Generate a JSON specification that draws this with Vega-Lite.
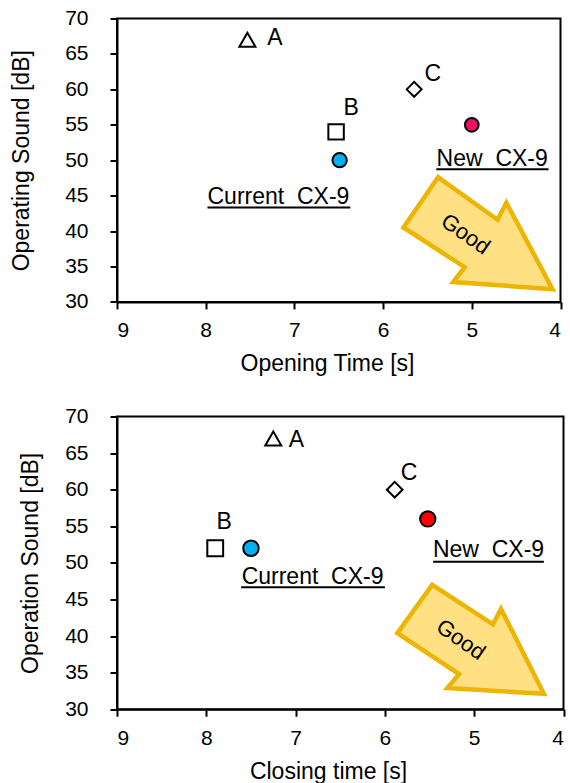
{
  "$schema": "https://vega.github.io/schema/vega-lite/v6.json",
  "padding": {"left": 9, "top": 6.5, "right": 2, "bottom": 0},
  "bounds": "flush",
  "spacing": 114,
  "config": {
    "font": "Liberation Sans",
    "view": {"stroke": "black", "strokeWidth": 2},
    "axis": {
      "domainColor": "black", "domainWidth": 2,
      "tickColor": "black", "tickWidth": 2, "tickSize": 7,
      "labelFont": "Liberation Sans", "labelFontSize": 21, "labelColor": "black",
      "titleFont": "Liberation Sans", "titleFontSize": 23, "titleFontWeight": "normal", "titleColor": "black",
      "grid": false
    },
    "axisX": {"labelPadding": 11, "titlePadding": 12},
    "axisY": {"labelPadding": 22},
    "text": {"font": "Liberation Sans", "color": "black"}
  },
  "resolve": {"scale": {"fill": "independent", "shape": "independent", "size": "independent"}},
  "datasets": {
    "points_top": [
      {"name": "A", "x": 7.53, "y": 67},
      {"name": "B", "x": 6.53, "y": 54},
      {"name": "C", "x": 5.65, "y": 60},
      {"name": "Current CX-9", "x": 6.49, "y": 50},
      {"name": "New CX-9", "x": 5.0, "y": 55}
    ],
    "labels_top": [
      {"text": "A", "x": 7.22, "y": 66.23},
      {"text": "B", "x": 6.36, "y": 56.35},
      {"text": "C", "x": 5.44, "y": 61.2},
      {"text": "Current\u00a0\u00a0CX-9", "x": 7.18, "y": 43.79},
      {"text": "New\u00a0\u00a0CX-9", "x": 4.77, "y": 49.2}
    ],
    "underline_top": [
      {"x": 7.98, "x2": 6.37, "y": 43.32},
      {"x": 5.40, "x2": 4.135, "y": 48.73}
    ],
    "arrow_top": [
      {"i": 1, "x": 5.77, "y": 40.5},
      {"i": 2, "x": 5.38, "y": 47.6},
      {"i": 3, "x": 4.71, "y": 41.6},
      {"i": 4, "x": 4.61, "y": 44.0},
      {"i": 5, "x": 4.09, "y": 31.8},
      {"i": 6, "x": 5.21, "y": 32.8},
      {"i": 7, "x": 5.08, "y": 34.9}
    ],
    "good_top": [{"text": "Good", "x": 5.07, "y": 39.56}],
    "points_bottom": [
      {"name": "A", "x": 7.25, "y": 67},
      {"name": "B", "x": 7.9, "y": 52},
      {"name": "C", "x": 5.89, "y": 60},
      {"name": "Current CX-9", "x": 7.5, "y": 52},
      {"name": "New CX-9", "x": 5.52, "y": 56}
    ],
    "labels_bottom": [
      {"text": "A", "x": 6.99, "y": 65.77},
      {"text": "B", "x": 7.80, "y": 54.6},
      {"text": "C", "x": 5.73, "y": 61.34},
      {"text": "Current\u00a0\u00a0CX-9", "x": 6.81, "y": 47.1},
      {"text": "New\u00a0\u00a0CX-9", "x": 4.84, "y": 50.75}
    ],
    "underline_bottom": [
      {"x": 7.61, "x2": 6.0, "y": 46.65},
      {"x": 5.46, "x2": 4.22, "y": 50.15}
    ],
    "arrow_bottom": [
      {"i": 1, "x": 5.86, "y": 40.4},
      {"i": 2, "x": 5.47, "y": 47.0},
      {"i": 3, "x": 4.79, "y": 41.6},
      {"i": 4, "x": 4.70, "y": 43.7},
      {"i": 5, "x": 4.22, "y": 32.1},
      {"i": 6, "x": 5.30, "y": 32.9},
      {"i": 7, "x": 5.17, "y": 34.8}
    ],
    "good_bottom": [{"text": "Good", "x": 5.15, "y": 39.5}]
  },
  "vconcat": [
    {
      "width": 443.5,
      "height": 283.4,
      "encoding": {
        "x": {"field": "x", "type": "quantitative",
              "scale": {"domain": [4, 9], "reverse": true, "nice": false, "zero": false},
              "axis": {"values": [4, 5, 6, 7, 8, 9], "format": "d", "title": "Opening Time [s]", "titleX": 210}},
        "y": {"field": "y", "type": "quantitative",
              "scale": {"domain": [30, 70], "nice": false, "zero": false},
              "axis": {"values": [30, 35, 40, 45, 50, 55, 60, 65, 70], "format": "d", "title": "Operating Sound [dB]", "titlePadding": 31}}
      },
      "layer": [
        {"data": {"name": "arrow_top"},
         "mark": {"type": "line", "interpolate": "linear-closed", "fill": "#FFE083", "stroke": "#EDB400", "strokeWidth": 4.5, "strokeJoin": "miter"},
         "encoding": {"order": {"field": "i", "type": "quantitative"}}},
        {"data": {"name": "good_top"},
         "mark": {"type": "text", "angle": 35, "fontSize": 22, "align": "center", "baseline": "middle"},
         "encoding": {"text": {"field": "text"}}},
        {"data": {"name": "underline_top"},
         "mark": {"type": "rule", "strokeWidth": 2, "color": "black"},
         "encoding": {"x2": {"field": "x2"}}},
        {"data": {"name": "labels_top"},
         "mark": {"type": "text", "fontSize": 23, "align": "center", "baseline": "alphabetic"},
         "encoding": {"text": {"field": "text"}}},
        {"data": {"name": "points_top"},
         "mark": {"type": "point", "filled": true, "stroke": "black", "strokeWidth": 2, "opacity": 1},
         "encoding": {
           "shape": {"field": "name", "type": "nominal", "legend": null,
                     "scale": {"domain": ["A", "B", "C", "Current CX-9", "New CX-9"], "range": ["triangle-up", "square", "diamond", "circle", "circle"]}},
           "fill": {"field": "name", "type": "nominal", "legend": null,
                    "scale": {"domain": ["A", "B", "C", "Current CX-9", "New CX-9"], "range": ["white", "white", "white", "#00B0F0", "#EE1164"]}},
           "size": {"field": "name", "type": "nominal", "legend": null,
                    "scale": {"domain": ["A", "B", "C", "Current CX-9", "New CX-9"], "range": [256, 188, 222, 266, 266]}}
         }}
      ]
    },
    {
      "width": 446.5,
      "height": 292.7,
      "encoding": {
        "x": {"field": "x", "type": "quantitative",
              "scale": {"domain": [4, 9], "reverse": true, "nice": false, "zero": false},
              "axis": {"values": [4, 5, 6, 7, 8, 9], "format": "d", "title": "Closing time [s]", "titleX": 211}},
        "y": {"field": "y", "type": "quantitative",
              "scale": {"domain": [30, 70], "nice": false, "zero": false},
              "axis": {"values": [30, 35, 40, 45, 50, 55, 60, 65, 70], "format": "d", "title": "Operation Sound [dB]", "titlePadding": 22}}
      },
      "layer": [
        {"data": {"name": "arrow_bottom"},
         "mark": {"type": "line", "interpolate": "linear-closed", "fill": "#FFE083", "stroke": "#EDB400", "strokeWidth": 4.5, "strokeJoin": "miter"},
         "encoding": {"order": {"field": "i", "type": "quantitative"}}},
        {"data": {"name": "good_bottom"},
         "mark": {"type": "text", "angle": 35, "fontSize": 22, "align": "center", "baseline": "middle"},
         "encoding": {"text": {"field": "text"}}},
        {"data": {"name": "underline_bottom"},
         "mark": {"type": "rule", "strokeWidth": 2, "color": "black"},
         "encoding": {"x2": {"field": "x2"}}},
        {"data": {"name": "labels_bottom"},
         "mark": {"type": "text", "fontSize": 23, "align": "center", "baseline": "alphabetic"},
         "encoding": {"text": {"field": "text"}}},
        {"data": {"name": "points_bottom"},
         "mark": {"type": "point", "filled": true, "stroke": "black", "strokeWidth": 2, "opacity": 1},
         "encoding": {
           "shape": {"field": "name", "type": "nominal", "legend": null,
                     "scale": {"domain": ["A", "B", "C", "Current CX-9", "New CX-9"], "range": ["triangle-up", "square", "diamond", "circle", "circle"]}},
           "fill": {"field": "name", "type": "nominal", "legend": null,
                    "scale": {"domain": ["A", "B", "C", "Current CX-9", "New CX-9"], "range": ["white", "white", "white", "#00B0F0", "#FF0000"]}},
           "size": {"field": "name", "type": "nominal", "legend": null,
                    "scale": {"domain": ["A", "B", "C", "Current CX-9", "New CX-9"], "range": [256, 235, 222, 266, 266]}}
         }}
      ]
    }
  ]
}
